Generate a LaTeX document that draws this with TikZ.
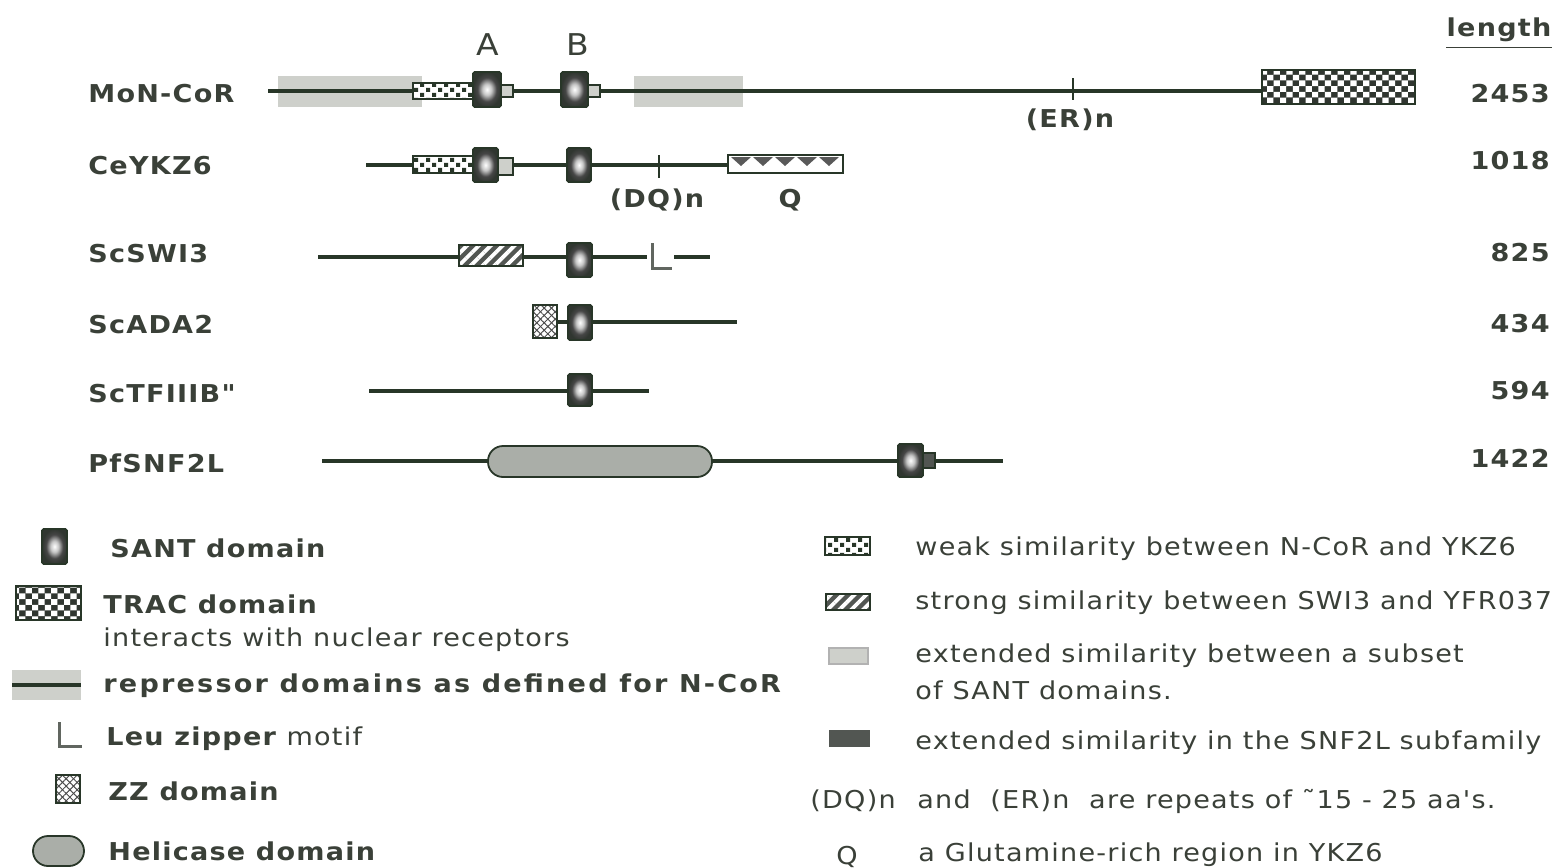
\documentclass[tikz,border=0pt]{standalone}
\usepackage{fontspec}
\usetikzlibrary{patterns,patterns.meta}
\newfontfamily\gen[FakeStretch=1.1,LetterSpace=5]{DejaVu Sans}
\definecolor{ink}{RGB}{58,64,56}
\definecolor{bone}{RGB}{40,54,40}
\definecolor{repgray}{RGB}{206,208,203}
\definecolor{helgray}{RGB}{170,174,168}
\definecolor{darkbox}{RGB}{82,86,82}
\definecolor{santdark}{RGB}{48,54,48}

% radial fill of the SANT boxes: light core, dark rim
\pgfdeclareradialshading{santshade}{\pgfpoint{0bp}{0bp}}{color(0bp)=(white); color(8bp)=(gray!45); color(17bp)=(gray!55!black); color(25bp)=(santdark); color(50bp)=(santdark)}
% staggered small squares (weak similarity)
\pgfdeclarepatternformonly{weakpat}{\pgfqpoint{-0.1pt}{-0.1pt}}{\pgfqpoint{6.1pt}{5.1pt}}{\pgfqpoint{6pt}{5pt}}{%
  \pgfpathrectangle{\pgfqpoint{0pt}{0pt}}{\pgfqpoint{2pt}{2pt}}%
  \pgfpathrectangle{\pgfqpoint{3pt}{2.5pt}}{\pgfqpoint{2pt}{2pt}}%
  \pgfusepath{fill}}
% checkerboard of light cells (TRAC domain)
\pgfdeclarepatternformonly{tracpat}{\pgfqpoint{-0.1pt}{-0.1pt}}{\pgfqpoint{6.5pt}{5.8pt}}{\pgfqpoint{6.4pt}{5.7pt}}{%
  \pgfpathrectangle{\pgfqpoint{0pt}{0pt}}{\pgfqpoint{3.1pt}{2.8pt}}%
  \pgfpathrectangle{\pgfqpoint{3.2pt}{2.85pt}}{\pgfqpoint{3.1pt}{2.8pt}}%
  \pgfusepath{fill}}

\tikzset{
  backbone/.style={draw=bone, line width=1.6pt},
  tickmark/.style={draw=bone, line width=1pt},
  santbox/.style={shade, shading=santshade, draw=bone, line width=0.9pt, rounded corners=0.8pt},
  weakbox/.style={preaction={fill=white}, pattern=weakpat, pattern color=bone, draw=bone, line width=0.9pt},
  tracbox/.style={preaction={fill=santdark}, pattern=tracpat, pattern color=white, draw=bone, line width=0.9pt},
  strongbox/.style={preaction={fill=darkbox}, pattern={Lines[angle=45,distance=4.2pt,line width=1.9pt]}, pattern color=white, draw=bone, line width=0.9pt},
  zzbox/.style={preaction={fill=white},
    preaction={pattern={Lines[angle=45,distance=2.6pt,line width=0.5pt]}, pattern color=gray!60!black},
    pattern={Lines[angle=-45,distance=2.6pt,line width=0.5pt]}, pattern color=gray!60!black,
    draw=bone, line width=0.9pt},
  repband/.style={fill=repgray},
  smallbox/.style={fill=repgray, draw=bone, line width=0.8pt},
  darksmall/.style={fill=darkbox, draw=bone, line width=0.8pt},
  darkband/.style={fill=darkbox},
  helbox/.style={fill=helgray, draw=bone, line width=0.9pt, rounded corners=7.5pt},
  qbox/.style={fill=white, draw=bone, line width=0.9pt},
  qtri/.style={fill=gray!70!black},
  leu/.style={draw=ink!80, line width=1.5pt},
  lab/.style={text=ink, inner sep=0pt, text height=9pt, text depth=0pt, font=\gen\fontsize{12.3}{14}\selectfont},
  blab/.style={lab, font=\gen\bfseries\fontsize{12.3}{14}\selectfont},
  wideblab/.style={lab, font=\gen\bfseries\fontsize{12.3}{14}\selectfont\addfontfeature{LetterSpace=9}},
  biglab/.style={lab, text height=11pt, font=\gen\fontsize{15}{17}\selectfont},
}

\begin{document}
\begin{tikzpicture}[x=0.5pt,y=-0.5pt]
\useasboundingbox (0,0) rectangle (1568,867);

% ---- column heading and lengths ----
\node[blab] (len) at (1499,27) {length};
\draw[ink, line width=0.9pt] (len.south west) ++(0,11) coordinate (ul1) -- (len.south east |- ul1);
\node[blab, anchor=east] (n1) at (1550,93) {2453};
\node[blab, anchor=east] (n2) at (1550,160) {1018};
\node[blab, anchor=east] (n3) at (1550,252) {825};
\node[blab, anchor=east] (n4) at (1550,323) {434};
\node[blab, anchor=east] (n5) at (1550,390) {594};
\node[blab, anchor=east] (n6) at (1550,458) {1422};

% ---- protein names ----
\node[blab, anchor=west] (p1) at (88,93) {MoN-CoR};
\node[blab, anchor=west] (p2) at (88,165) {CeYKZ6};
\node[blab, anchor=west] (p3) at (88,253) {ScSWI3};
\node[blab, anchor=west] (p4) at (88,324) {ScADA2};
\node[blab, anchor=west] (p5) at (88,393) {ScTFIIIB"};
\node[blab, anchor=west] (p6) at (88,463) {PfSNF2L};

% ---- MoN-CoR ----
\fill[repband] (278,76) rectangle (422,107);
\fill[repband] (634,76) rectangle (743,107);
\draw[backbone] (268,91) -- (1262,91);
\path[weakbox] (413,83) rectangle (473,99);
\path[smallbox] (500,85) rectangle (513,97);
\path[santbox] (473,72) rectangle (501,107);
\path[smallbox] (587,85) rectangle (600,97);
\path[santbox] (561,72) rectangle (588,107);
\draw[tickmark] (1073,78) -- (1073,100);
\path[tracbox] (1262,70) rectangle (1415,104);
\node[biglab] (lA) at (488,44) {A};
\node[biglab] (lB) at (578,44) {B};
\node[blab] (er) at (1070,118) {(ER)n};

% ---- CeYKZ6 ----
\draw[backbone] (366,165) -- (728,165);
\path[weakbox] (413,156) rectangle (473,173);
\path[smallbox] (497,158) rectangle (513,175);
\path[santbox] (473,148) rectangle (498,182);
\path[santbox] (567,148) rectangle (591,182);
\draw[tickmark] (659,155) -- (659,178);
\path[qbox] (728,155) rectangle (843,173);
\foreach \cx in {741,763,785,807,829}
  \fill[qtri] (\cx-10,157) -- (\cx+10,157) -- (\cx,166) -- cycle;
\node[blab] (dq) at (657,198) {(DQ)n};
\node[blab] (qq) at (790,198) {Q};

% ---- ScSWI3 ----
\draw[backbone] (318,257) -- (647,257);
\draw[backbone] (674,257) -- (710,257);
\path[strongbox] (459,245) rectangle (523,266);
\path[santbox] (567,243) rectangle (592,277);
\draw[leu] (652,243) -- (652,268) -- (672,268);

% ---- ScADA2 ----
\draw[backbone] (535,322) -- (737,322);
\path[zzbox] (533,305) rectangle (557,338);
\path[santbox] (568,305) rectangle (592,340);

% ---- ScTFIIIB" ----
\draw[backbone] (369,391) -- (649,391);
\path[santbox] (568,374) rectangle (592,406);

% ---- PfSNF2L ----
\draw[backbone] (322,461) -- (1003,461);
\path[helbox] (488,446) rectangle (712,477);
\path[darksmall] (922,453) rectangle (935,468);
\path[santbox] (898,444) rectangle (923,477);

% ---- legend, left column ----
\path[santbox] (42,529) rectangle (67,564);
\node[blab, anchor=west] (g1) at (110,548) {SANT domain};
\path[tracbox] (16,586) rectangle (81,620);
\node[blab, anchor=west] (g2) at (103,604) {TRAC domain};
\node[lab, anchor=west] (g2b) at (103,637) {interacts with nuclear receptors};
\fill[repband] (12,670) rectangle (81,700);
\draw[backbone] (12,685) -- (81,685);
\node[wideblab, anchor=west] (g3) at (103,683) {repressor domains as defined for N-CoR};
\draw[leu] (59,722) -- (59,746) -- (82,746);
\node[lab, anchor=west] (g4) at (106,736) {\bfseries Leu zipper \mdseries motif};
\path[zzbox] (56,775) rectangle (80,803);
\node[blab, anchor=west] (g5) at (108,791) {ZZ domain};
\path[helbox] (33,836) rectangle (84,866);
\node[blab, anchor=west] (g6) at (108,851) {Helicase domain};

% ---- legend, right column ----
\path[weakbox] (825,537) rectangle (870,555);
\node[lab, anchor=west] (h1) at (915,546) {weak similarity between N-CoR and YKZ6};
\path[strongbox] (826,594) rectangle (870,610);
\node[lab, anchor=west] (h2) at (915,600) {strong similarity between SWI3 and YFR037};
\fill[repgray, draw=gray!60, line width=0.8pt] (829,648) rectangle (868,664);
\node[lab, anchor=west] (h3) at (915,653) {extended similarity between a subset};
\node[lab, anchor=west] (h3b) at (915,690) {of SANT domains.};
\fill[darkband] (829,730) rectangle (870,747);
\node[lab, anchor=west] (h4) at (915,740) {extended similarity in the SNF2L subfamily};
\node[lab, anchor=west] (h5a) at (810,799) {(DQ)n};
\node[lab, anchor=west] (h5) at (917,799) {and\ \ (ER)n\ \ are repeats of ˜15 - 25 aa's.};
\node[lab, anchor=west] (h6a) at (836,855) {Q};
\node[lab, anchor=west] (h6) at (918,852) {a Glutamine-rich region in YKZ6};
\end{tikzpicture}
\end{document}
